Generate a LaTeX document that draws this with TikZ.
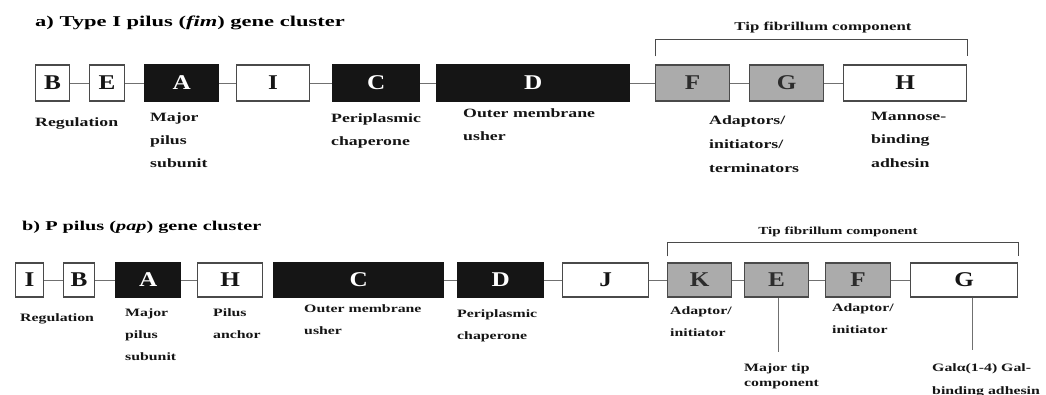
\documentclass[tikz,border=0pt]{standalone}
\usepackage{fontspec}
\setmainfont{Liberation Serif}
\newfontfamily\headfam{Liberation Serif}[FakeStretch=1.5]
\newfontfamily\lblfam{Liberation Serif}[FakeStretch=1.4]
\newfontfamily\genefam{Liberation Serif}[FakeStretch=1.2]
\definecolor{ink}{HTML}{151515}
\definecolor{tipgray}{HTML}{ABABAB}
\definecolor{edge}{HTML}{4A4A4A}
\definecolor{wire}{HTML}{707070}
\tikzset{
  gene/.style={anchor=west, inner sep=0, draw=edge, line width=1.2pt,
    font=\genefam\bfseries\fontsize{21}{21}\selectfont},
  genew/.style={gene, fill=white, text=ink},
  geneb/.style={gene, fill=ink, draw=ink, text=white},
  geneg/.style={gene, fill=tipgray, text=ink!90},
  rowa/.style={minimum height=36pt},
  rowb/.style={minimum height=34pt},
  wirestyle/.style={draw=wire, line width=0.9pt},
  bracket/.style={draw=edge, line width=0.9pt},
  heading/.style={anchor=west, inner sep=0, font=\headfam\bfseries\fontsize{15}{15}\selectfont},
  lbla/.style={anchor=north west, inner sep=0, align=left, text=ink,
    font=\lblfam\bfseries\fontsize{12.7}{23}\selectfont},
  lblb/.style={anchor=north west, inner sep=0, align=left, text=ink,
    font=\lblfam\bfseries\fontsize{11.3}{22}\selectfont},
  tiplbl/.style={inner sep=0, text=ink, font=\lblfam\bfseries\fontsize{12}{12}\selectfont},
}
\begin{document}
\begin{tikzpicture}[x=1pt, y=-1pt]
\useasboundingbox[fill=white] (0,0) rectangle (1046,395);

% ---------- a) fim cluster ----------
\node[heading] (ta) at (35,23) {a) Type I pilus (\textit{fim}) gene cluster};

\node[genew, rowa, minimum width=34pt]  (aB) at (35,83)  {B};
\node[genew, rowa, minimum width=35pt]  (aE) at (89,83)  {E};
\node[geneb, rowa, minimum width=74pt]  (aA) at (144,83) {A};
\node[genew, rowa, minimum width=73pt]  (aI) at (236,83) {I};
\node[geneb, rowa, minimum width=87pt]  (aC) at (332,83) {C};
\node[geneb, rowa, minimum width=193pt] (aD) at (436,83) {D};
\node[geneg, rowa, minimum width=74pt]  (aF) at (655,83) {F};
\node[geneg, rowa, minimum width=74pt]  (aG) at (749,83) {G};
\node[genew, rowa, minimum width=123pt] (aH) at (843,83) {H};

\foreach \p/\q in {aB/aE, aE/aA, aA/aI, aI/aC, aC/aD, aD/aF, aF/aG, aG/aH}
  \draw[wirestyle] (\p.east) -- (\q.west);

\draw[bracket] ([yshift=8pt]aF.north west) |- ([yshift=25pt]aH.north east)
  -- ([yshift=8pt]aH.north east);
\node[tiplbl] (tipa) at (823,28) {Tip fibrillum component};

\node[lbla] (la1) at (35,117.5)  {Regulation};
\node[lbla] (la2) at (150,112.5) {Major\\pilus\\subunit};
\node[lbla] (la3) at (331,113.5) {Periplasmic\\chaperone};
\node[lbla] (la4) at (463,108.5) {Outer membrane\\usher};
\node[lbla, font=\lblfam\bfseries\fontsize{12.7}{24}\selectfont] (la5) at (709,115.5) {Adaptors/\\initiators/\\terminators};
\node[lbla, font=\lblfam\bfseries\fontsize{12.7}{23.5}\selectfont] (la6) at (871,111.5) {Mannose-\\binding\\adhesin};

% ---------- b) pap cluster ----------
\node[heading, font=\headfam\bfseries\fontsize{13.5}{13.5}\selectfont] (tb) at (22,227) {b) P pilus (\textit{pap}) gene cluster};

\node[genew, rowb, minimum width=28pt]  (bI) at (15,280)  {I};
\node[genew, rowb, minimum width=31pt]  (bB) at (63,280)  {B};
\node[geneb, rowb, minimum width=65pt]  (bA) at (115,280) {A};
\node[genew, rowb, minimum width=65pt]  (bH) at (197,280) {H};
\node[geneb, rowb, minimum width=170pt] (bC) at (273,280) {C};
\node[geneb, rowb, minimum width=86pt]  (bD) at (457,280) {D};
\node[genew, rowb, minimum width=86pt]  (bJ) at (562,280) {J};
\node[geneg, rowb, minimum width=64pt]  (bK) at (667,280) {K};
\node[geneg, rowb, minimum width=64pt]  (bE) at (744,280) {E};
\node[geneg, rowb, minimum width=65pt]  (bF) at (825,280) {F};
\node[genew, rowb, minimum width=107pt] (bG) at (910,280) {G};

\foreach \p/\q in {bI/bB, bB/bA, bA/bH, bC/bD, bD/bJ, bJ/bK, bK/bE, bE/bF, bF/bG}
  \draw[wirestyle] (\p.east) -- (\q.west);

\draw[bracket] ([yshift=6pt]bK.north west) |- ([yshift=20pt]bG.north east)
  -- ([yshift=6pt]bG.north east);
\node[tiplbl, font=\lblfam\bfseries\fontsize{10.8}{10.8}\selectfont] (tipb) at (838,232) {Tip fibrillum component};

\coordinate (eEnd) at (778,352);
\coordinate (gEnd) at (972,350);
\draw[wirestyle] (bE.south -| eEnd) -- (eEnd);
\draw[wirestyle] (bG.south -| gEnd) -- (gEnd);

\node[lblb] (lb1) at (20,313)  {Regulation};
\node[lblb] (lb2) at (125,308) {Major\\pilus\\subunit};
\node[lblb] (lb3) at (213,308) {Pilus\\anchor};
\node[lblb] (lb4) at (304,304) {Outer membrane\\usher};
\node[lblb] (lb5) at (457,309) {Periplasmic\\chaperone};
\node[lblb] (lb6) at (670,306) {Adaptor/\\initiator};
\node[lblb] (lb7) at (832,303) {Adaptor/\\initiator};
\node[lblb, font=\lblfam\bfseries\fontsize{11.3}{15}\selectfont] (lb8) at (744,363) {Major tip\\component};
\node[lblb, font=\lblfam\bfseries\fontsize{11.3}{23}\selectfont] (lb9) at (932,363) {Galα(1-4) Gal-\\binding adhesin};
\end{tikzpicture}
\end{document}
